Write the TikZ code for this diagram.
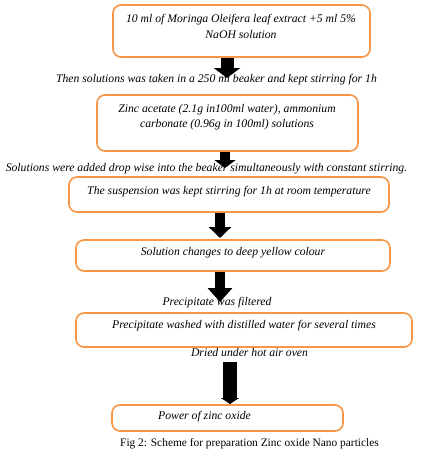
\documentclass[tikz,border=0pt]{standalone}
\usepackage{fontspec}
\setmainfont{Liberation Serif}
\usetikzlibrary{arrows.meta}
\definecolor{boxorange}{HTML}{F79646}
\begin{document}
\begin{tikzpicture}[x=1pt,y=-1pt,
  box/.style={draw=boxorange, line width=1.6pt, rounded corners=8pt, inner sep=0pt},
  txt/.style={inner sep=0pt, font=\fontsize{11.7}{15.5}\selectfont\itshape, align=center},
  captxt/.style={inner sep=0pt, font=\fontsize{11.4}{14}\selectfont},
  blockarrow/.style={draw=black, line width=#1}
]
\useasboundingbox (0,0) rectangle (435,458);
% boxes
\node[box, minimum width=257pt, minimum height=52pt] (b1) at (241.5,31) {};
\node[box, minimum width=261pt, minimum height=56pt] (b2) at (227.5,123) {};
\node[box, minimum width=320pt, minimum height=35pt] (b3) at (229,194.5) {};
\node[box, minimum width=314pt, minimum height=31pt] (b4) at (233,255.5) {};
\node[box, minimum width=336pt, minimum height=34pt] (b5) at (244,330) {};
\node[box, minimum width=231pt, minimum height=26pt] (b6) at (227.5,418) {};
% texts
\node[txt] (t1) at (241,26.5) {10 ml of Moringa Oleifera leaf extract +5 ml 5\%\\NaOH solution};
\node[txt] (l1) at (216.5,80) {Then solutions was taken in a 250 ml beaker and kept stirring for 1h};
\node[txt] (t2) at (227,117) {Zinc acetate (2.1g in100ml water), ammonium\\carbonate (0.96g in 100ml) solutions};
\node[txt] (l2) at (206.5,169) {Solutions were added drop wise into the beaker simultaneously with constant stirring.};
\node[txt] (t3) at (229,192) {The suspension was kept stirring for 1h at room temperature};
\node[txt] (t4) at (233,253) {Solution changes to deep yellow colour};
\node[txt] (l3) at (217,303) {Precipitate was filtered};
\node[txt] (t5) at (244,326) {Precipitate washed with distilled water for several times};
\node[txt] (l4) at (249.5,353) {Dried under hot air oven};
\node[txt, anchor=west] (t6) at (158,417) {Power of zinc oxide};
\node[captxt] (cap) at (249.5,444) {Fig 2: Scheme for preparation Zinc oxide Nano particles};
% arrow tips / free ends
\coordinate (e1) at (227,78);
\coordinate (e2) at (225,168);
\coordinate (e3) at (220,238);
\coordinate (e4) at (220,302);
\coordinate (s5) at (230,362);
\coordinate (e5) at (230,404);
% block arrows
\draw[blockarrow=13pt, -{Triangle[width=26pt,length=10pt]}] (b1.south -| e1) -- (e1);
\draw[blockarrow=10pt, -{Triangle[width=21pt,length=8pt]}] (b2.south -| e2) -- (e2);
\draw[blockarrow=10pt, -{Triangle[width=22pt,length=11pt]}] (b3.south -| e3) -- (e3);
\draw[blockarrow=10pt, -{Triangle[width=24pt,length=14pt]}] (b4.south -| e4) -- (e4);
\draw[blockarrow=14pt, -{Triangle[width=18pt,length=6pt]}] (s5) -- (e5);
\end{tikzpicture}
\end{document}
